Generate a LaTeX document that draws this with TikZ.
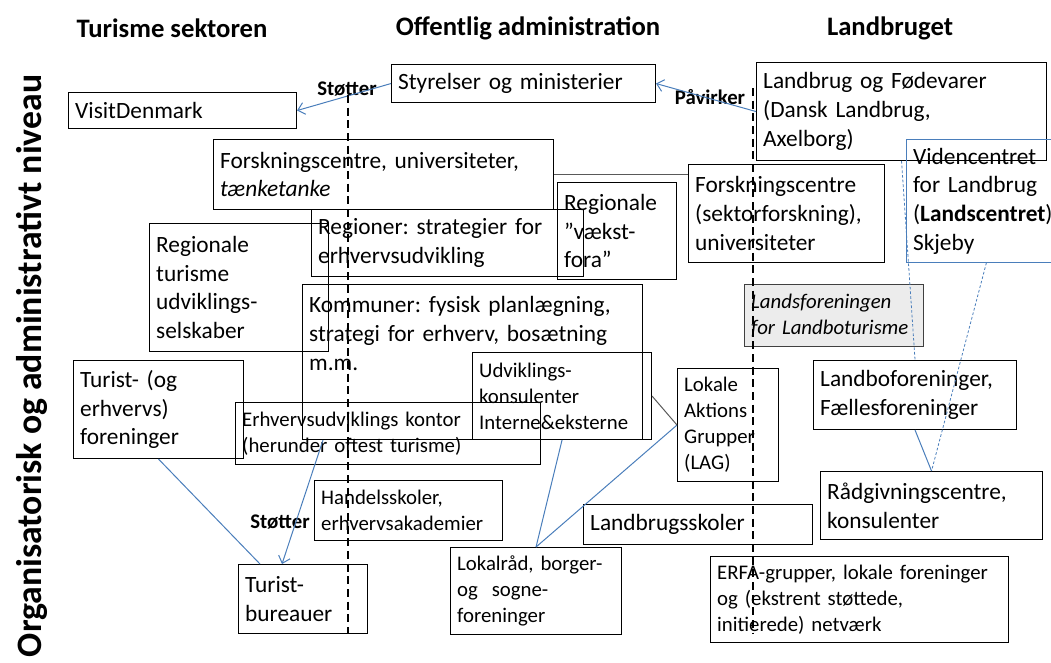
\documentclass[tikz,border=0pt]{standalone}
\usepackage{fontspec}
\setmainfont{Carlito}
\usetikzlibrary{arrows.meta,calc}
\definecolor{blaa}{RGB}{74,126,187}
\newcommand\normtxt{\fontsize{17.5}{21.5}\selectfont\frenchspacing}
\newcommand\smtxt{\fontsize{15.6}{19.5}\selectfont\frenchspacing}
\newcommand\hdtxt{\fontsize{20}{24}\selectfont\bfseries}
\hyphenpenalty=10000
\exhyphenpenalty=10000
\tikzset{
	boks/.style={draw, line width=0.8pt, anchor=north west, inner xsep=5pt, inner ysep=0pt, align=left, font=\normtxt},
	maal/.style 2 args={minimum width=0.75*#1pt, minimum height=0.75*#2pt, text width=0.75*#1pt-10pt},
}
\begin{document}
\begin{tikzpicture}[x=0.75pt, y=-0.75pt, >={Straight Barb[length=5pt,width=9pt]},
	pil/.style={draw=blaa, line width=0.75pt, ->},
	linje/.style={draw=blaa, line width=0.75pt},
	stiplet/.style={draw=blaa, line width=0.6pt, dash pattern=on 2pt off 1.5pt},
	graa/.style={draw=black!65, line width=0.75pt},
	skille/.style={line width=1.6pt, dash pattern=on 6pt off 3.5pt},
	lbl/.style={font=\smtxt\bfseries, inner sep=0pt},
	hoved/.style={font=\hdtxt, inner sep=0pt}]
	\clip (0,0) rectangle (1051,662);

	\node[hoved] (h1) at (172,28) {Turisme sektoren};
	\node[hoved] (h2) at (528,28) {Offentlig administration};
	\node[hoved] (h3) at (890,28) {Landbruget};
	\node[hoved, font=\fontsize{26.8}{30}\selectfont\bfseries, rotate=90] (niv) at (32,366) {Organisatorisk og administrativt niveau};

	\node[boks, maal={228}{36}] (vd) at (68,92) {VisitDenmark};
	\node[boks, maal={264}{38}] (sty) at (391,64) {Styrelser og ministerier};
	\node[boks, maal={290}{98}] (lf) at (756,62) {Landbrug og Fødevarer\\(Dansk Landbrug,\\Axelborg)};
	\node[boks, maal={340}{70}] (fu) at (213,139) {Forskningscentre, universiteter,\\\textit{tænketanke}};
	\node[boks, maal={272}{67}] (reg) at (311,209) {Regioner: strategier for\\erhvervsudvikling};
	\node[boks, maal={119}{97}] (vf) at (557,182) {Regionale\\”vækst-\\fora”};
	\node[boks, maal={196}{98}] (fs) at (688,164) {Forskningscentre\\(sektorforskning),\\universiteter};
	\node[boks, maal={160}{123}, draw=blaa, line width=0.6pt] (vc) at (906,139) {Videncentret\\for Landbrug\\(\textbf{Landscentret})\\Skjeby};
	\node[boks, maal={179}{128}] (rt) at (149,223) {Regionale\\turisme\\udviklings-\\selskaber};
	\node[boks, maal={340}{155}, text height=21pt, text depth=95pt] (kom) at (302,284) {Kommuner: fysisk planlægning,\\strategi for erhverv, bosætning\\m.m.};
	\node[boks, maal={179}{62}, fill=gray!15, draw=black!75, font=\smtxt\itshape] (lft) at (744,284) {Landsforeningen\\for Landboturisme};
	\node[boks, maal={170}{98}] (tf) at (73,360) {Turist- (og\\erhvervs)\\foreninger};
	\node[boks, maal={179}{87}, font=\smtxt] (udv) at (472,352) {Udviklings-\\konsulenter\\Interne\&eksterne};
	\node[boks, maal={101}{113}, font=\smtxt] (lag) at (677,368) {Lokale\\Aktions\\Grupper\\(LAG)};
	\node[boks, maal={203}{69}] (lb) at (813,360) {Landboforeninger,\\Fællesforeninger};
	\node[boks, maal={305}{62}, font=\smtxt] (ek) at (235,402) {Erhvervsudviklings kontor\\(herunder oftest turisme)};
	\node[boks, maal={188}{60}, font=\smtxt] (hs) at (314,480) {Handelsskoler,\\erhvervsakademier};
	\node[boks, maal={222}{68}] (rg) at (820,471) {Rådgivningscentre,\\konsulenter};
	\node[boks, maal={229}{40}] (lbs) at (583,504) {Landbrugsskoler};
	\node[boks, maal={129}{69}] (tb) at (238,564) {Turist-\\bureauer};
	\node[boks, maal={171}{87}, font=\smtxt] (lok) at (450,547) {Lokalråd, borger-\\og~ sogne-\\foreninger};
	\node[boks, maal={298}{86}, font=\smtxt] (erfa) at (710,556) {ERFA-grupper, lokale foreninger\\og (ekstrent støttede,\\initierede) netværk};

	\node[lbl] (st1) at (347,89) {Støtter};
	\node[lbl] (pv) at (710,97) {Påvirker};
	\node[lbl] (st2) at (280,522) {Støtter};

	\draw[pil] (sty.west) -- (vd.east);
	\draw[pil] (lf.west) -- (sty.east);
	\draw[pil] ($(kom.south west)+(21,0)$) -- ($(tb.north west)+(44,0)$);
	\draw[linje] (tf.south) -- ($(tb.north west)+(22,0)$);
	\draw[linje] (udv.south) -- (lok.north);
	\draw[linje] (lag.west) -- (lok.north);
	\draw[graa] (udv.east) -- (lag.west);
	\draw[graa] (fu.east) -- (fu.east -| fs.west);
	\draw[stiplet] (lf.south) -- (lb.north);
	\draw[stiplet] (vc.south) -- (rg.north);
	\draw[linje] (lb.south) -- (rg.north);

	\coordinate (d1a) at (348,95);
	\coordinate (d1b) at (348,633);
	\coordinate (d2a) at (753,88);
	\coordinate (d2b) at (753,634);
	\draw[skille] (d1a) -- (d1b);
	\draw[skille] (d2a) -- (d2b);
\end{tikzpicture}
\end{document}
